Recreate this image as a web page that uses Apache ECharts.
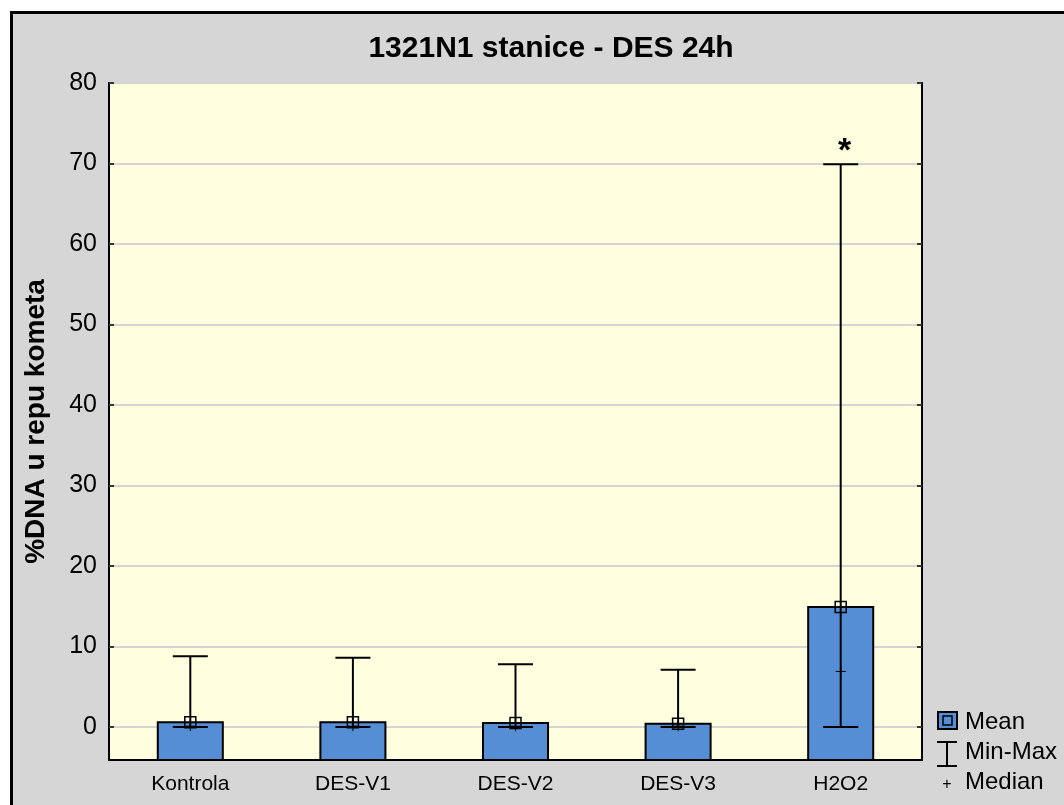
<!DOCTYPE html>
<html>
<head>
<meta charset="utf-8">
<script src="https://cdn.jsdelivr.net/npm/echarts@6/dist/echarts.min.js"></script>
<style>
html, body { margin: 0; padding: 0; background: #fff; }
#chart { width: 1064px; height: 805px; }
</style>
</head>
<body>
<div id="chart"></div>
<script>
// data
const categories = ['Kontrola', 'DES-V1', 'DES-V2', 'DES-V3', 'H2O2'];
const meanValues = [0.6, 0.6, 0.5, 0.4, 14.9];
const minValues = [0, 0, 0, 0, 0];
const maxValues = [8.8, 8.6, 7.8, 7.1, 69.9];
const medianValues = [0.1, 0.1, 0.1, 0.1, 6.9];
const marks = ['', '', '', '', '*'];
const yTicks = [0, 10, 20, 30, 40, 50, 60, 70, 80];
const yMin = -4.1;
const yMax = 80;

const FONT = '"Liberation Sans", Arial, sans-serif';
const chart = echarts.init(document.getElementById('chart'));

chart.setOption({
  backgroundColor: '#fff',
  animation: false,
  title: {
    text: '1321N1 stanice - DES 24h',
    left: 546,
    textAlign: 'center',
    top: 29,
    textStyle: { fontFamily: FONT, fontWeight: 'bold', fontSize: 30, color: '#000' }
  },
  grid: {
    left: 109, top: 83, right: 142, bottom: 45,
    show: true,
    backgroundColor: '#ffffe0',
    borderColor: '#000',
    borderWidth: 2
  },
  xAxis: [
    {
      type: 'category',
      data: categories,
      position: 'bottom',
      axisLine: { show: false },
      axisTick: { show: true, inside: true, alignWithLabel: true, length: 5, lineStyle: { color: '#000', width: 1.5 } },
      axisLabel: { color: '#000', fontFamily: FONT, fontSize: 21, margin: 14 }
    },
    {
      type: 'category',
      data: categories,
      position: 'top',
      axisLine: { show: false },
      axisTick: { show: true, inside: true, alignWithLabel: true, length: 5, lineStyle: { color: '#000', width: 1.5 } },
      axisLabel: { show: false }
    }
  ],
  yAxis: [
    {
      type: 'value',
      min: yMin,
      max: yMax,
      name: '%DNA u repu kometa',
      nameLocation: 'middle',
      nameGap: 59,
      nameTextStyle: { fontFamily: FONT, fontWeight: 'bold', fontSize: 28, color: '#000' },
      axisLine: { show: false },
      axisTick: { show: true, inside: true, length: 5, customValues: yTicks, lineStyle: { color: '#000', width: 1.5 } },
      axisLabel: { customValues: yTicks, color: '#000', fontFamily: FONT, fontSize: 25, margin: 12 },
      splitLine: { show: true, lineStyle: { color: '#d4d4d4', width: 2 } }
    },
    {
      type: 'value',
      min: yMin,
      max: yMax,
      position: 'right',
      axisLine: { show: false },
      axisTick: { show: true, inside: true, length: 5, customValues: yTicks, lineStyle: { color: '#000', width: 1.5 } },
      axisLabel: { show: false, customValues: yTicks },
      splitLine: { show: false }
    }
  ],
  graphic: [
    // outer gray frame
    { type: 'rect', z: -10, silent: true,
      shape: { x: 11.5, y: 12.5, width: 1100, height: 900 },
      style: { fill: '#d6d6d6', stroke: '#000', lineWidth: 3 } },
    // legend
    { type: 'rect', shape: { x: 938, y: 712, width: 19, height: 17 }, style: { fill: '#558ed5', stroke: '#000', lineWidth: 2 } },
    { type: 'rect', shape: { x: 943, y: 716, width: 9, height: 9 }, style: { fill: 'none', stroke: '#000', lineWidth: 1.5 } },
    { type: 'text', x: 965, y: 722, style: { text: 'Mean', font: '24px ' + FONT, fill: '#000', textVerticalAlign: 'middle' } },
    { type: 'line', shape: { x1: 937, y1: 742, x2: 957, y2: 742 }, style: { stroke: '#000', lineWidth: 2 } },
    { type: 'line', shape: { x1: 947, y1: 742, x2: 947, y2: 766 }, style: { stroke: '#000', lineWidth: 2 } },
    { type: 'line', shape: { x1: 937, y1: 766, x2: 957, y2: 766 }, style: { stroke: '#000', lineWidth: 2 } },
    { type: 'text', x: 965, y: 752, style: { text: 'Min-Max', font: '24px ' + FONT, fill: '#000', textVerticalAlign: 'middle' } },
    { type: 'text', x: 947, y: 785, style: { text: '+', font: '16px ' + FONT, fill: '#000', textAlign: 'center', textVerticalAlign: 'middle' } },
    { type: 'text', x: 965, y: 782, style: { text: 'Median', font: '24px ' + FONT, fill: '#000', textVerticalAlign: 'middle' } }
  ],
  series: [
    {
      // mean bars, drawn from the bottom of the axis
      name: 'Mean',
      type: 'custom',
      z: 2,
      renderItem: function (params, api) {
        const i = api.value(0);
        const top = api.coord([i, api.value(1)]);
        const bot = api.coord([i, yMin]);
        const w = api.size([1, 0])[0] * 0.4;
        return {
          type: 'rect',
          shape: { x: top[0] - w / 2, y: top[1], width: w, height: bot[1] - top[1] },
          style: { fill: '#558ed5', stroke: '#000', lineWidth: 2 }
        };
      },
      data: categories.map((c, i) => [i, meanValues[i]])
    },
    {
      // min-max whiskers and significance mark
      name: 'Min-Max',
      type: 'custom',
      z: 3,
      renderItem: function (params, api) {
        const i = api.value(0);
        const lo = api.coord([i, api.value(1)]);
        const hi = api.coord([i, api.value(2)]);
        const half = 17.5;
        const st = { stroke: '#000', lineWidth: 2 };
        const children = [
          { type: 'line', shape: { x1: hi[0], y1: hi[1], x2: lo[0], y2: lo[1] }, style: st },
          { type: 'line', shape: { x1: hi[0] - half, y1: hi[1], x2: hi[0] + half, y2: hi[1] }, style: st },
          { type: 'line', shape: { x1: lo[0] - half, y1: lo[1], x2: lo[0] + half, y2: lo[1] }, style: st }
        ];
        if (marks[i]) {
          children.push({
            type: 'text', x: hi[0] + 4, y: hi[1] - 13,
            style: { text: marks[i], font: 'bold 34px ' + FONT, fill: '#000', textAlign: 'center', textVerticalAlign: 'middle' }
          });
        }
        return { type: 'group', children: children };
      },
      data: categories.map((c, i) => [i, minValues[i], maxValues[i]])
    },
    {
      name: 'Mean marker',
      type: 'scatter',
      z: 4,
      symbol: 'rect',
      symbolSize: 11,
      itemStyle: { color: 'rgba(0,0,0,0)', borderColor: '#000', borderWidth: 1.5, opacity: 1 },
      data: meanValues
    },
    {
      name: 'Median',
      type: 'scatter',
      z: 4,
      symbol: 'path://M0,5L10,5M5,0L5,10',
      symbolSize: 10,
      itemStyle: { color: 'none', borderColor: '#000', borderWidth: 1, opacity: 1 },
      data: medianValues
    }
  ]
});
</script>
</body>
</html>
